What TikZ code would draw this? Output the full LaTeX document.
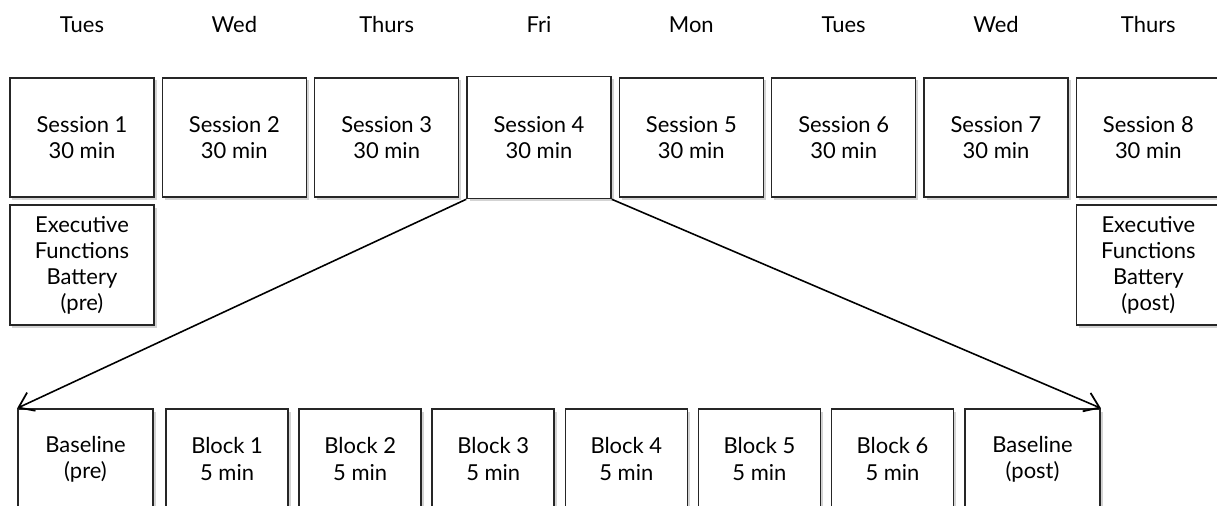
\documentclass[tikz,border=0pt]{standalone}
\usepackage{fontspec}
\setmainfont{Lato}
\usetikzlibrary{positioning,shadows,arrows.meta}

\begin{document}
\begin{tikzpicture}[x=0.2mm,y=-0.2mm,
  box/.style={draw=black!85,line width=0.9pt,fill=white,align=center,inner sep=0pt,font=\fontsize{12.5}{14.8}\selectfont,drop shadow={shadow xshift=0.5mm,shadow yshift=-0.5mm,opacity=0.35}},
  sess/.style={box,minimum width=28.8mm,minimum height=23.8mm},
  blk/.style={box,minimum width=24.4mm,minimum height=20mm},
  base/.style={box,minimum width=27mm,minimum height=20mm},
  day/.style={font=\fontsize{12.5}{15}\selectfont,text height=1.6ex,text depth=0pt},
  arr/.style={line width=0.9pt,-{Straight Barb[length=2.8mm,width=4mm,line width=1pt]}}]
\clip (0,0) rectangle (1217,506);
% sessions
\node[sess] (s1) at (82,137.5) {Session 1\\30 min};
\node[sess,right=1.35mm of s1] (s2) {Session 2\\30 min};
\node[sess,right=1.35mm of s2] (s3) {Session 3\\30 min};
\node[sess,right=1.35mm of s3,minimum height=24.4mm] (s4) {Session 4\\30 min};
\node[sess,right=1.35mm of s4] (s5) {Session 5\\30 min};
\node[sess,right=1.35mm of s5] (s6) {Session 6\\30 min};
\node[sess,right=1.35mm of s6] (s7) {Session 7\\30 min};
\node[sess,right=1.35mm of s7] (s8) {Session 8\\30 min};
% days
\node[day] (d1) at (s1.north |- 0,25) {Tues};
\node[day] (d2) at (s2.north |- 0,25) {Wed};
\node[day] (d3) at (s3.north |- 0,25) {Thurs};
\node[day] (d4) at (s4.north |- 0,25) {Fri};
\node[day] (d5) at (s5.north |- 0,25) {Mon};
\node[day] (d6) at (s6.north |- 0,25) {Tues};
\node[day] (d7) at (s7.north |- 0,25) {Wed};
\node[day] (d8) at (s8.north |- 0,25) {Thurs};
% executive functions battery
\node[sess,below=1.3mm of s1,minimum height=24mm] (e1) {Executive\\Functions\\Battery\\(pre)};
\node[sess,below=1.3mm of s8,minimum height=24mm] (e2) {Executive\\Functions\\Battery\\(post)};
% blocks of session 4
\node[base] (b0) at (85.5,459) {Baseline\\(pre)};
\node[blk,right=2.3mm of b0] (b1) {Block 1\\5 min};
\node[blk,right=1.9mm of b1] (b2) {Block 2\\5 min};
\node[blk,right=1.9mm of b2] (b3) {Block 3\\5 min};
\node[blk,right=1.9mm of b3] (b4) {Block 4\\5 min};
\node[blk,right=1.9mm of b4] (b5) {Block 5\\5 min};
\node[blk,right=1.9mm of b5] (b6) {Block 6\\5 min};
\node[base,right=2.0mm of b6] (b7) {Baseline\\(post)};
\draw[arr] (s4.south west) -- (b0.north west);
\draw[arr] (s4.south east) -- (b7.north east);
\end{tikzpicture}
\end{document}
